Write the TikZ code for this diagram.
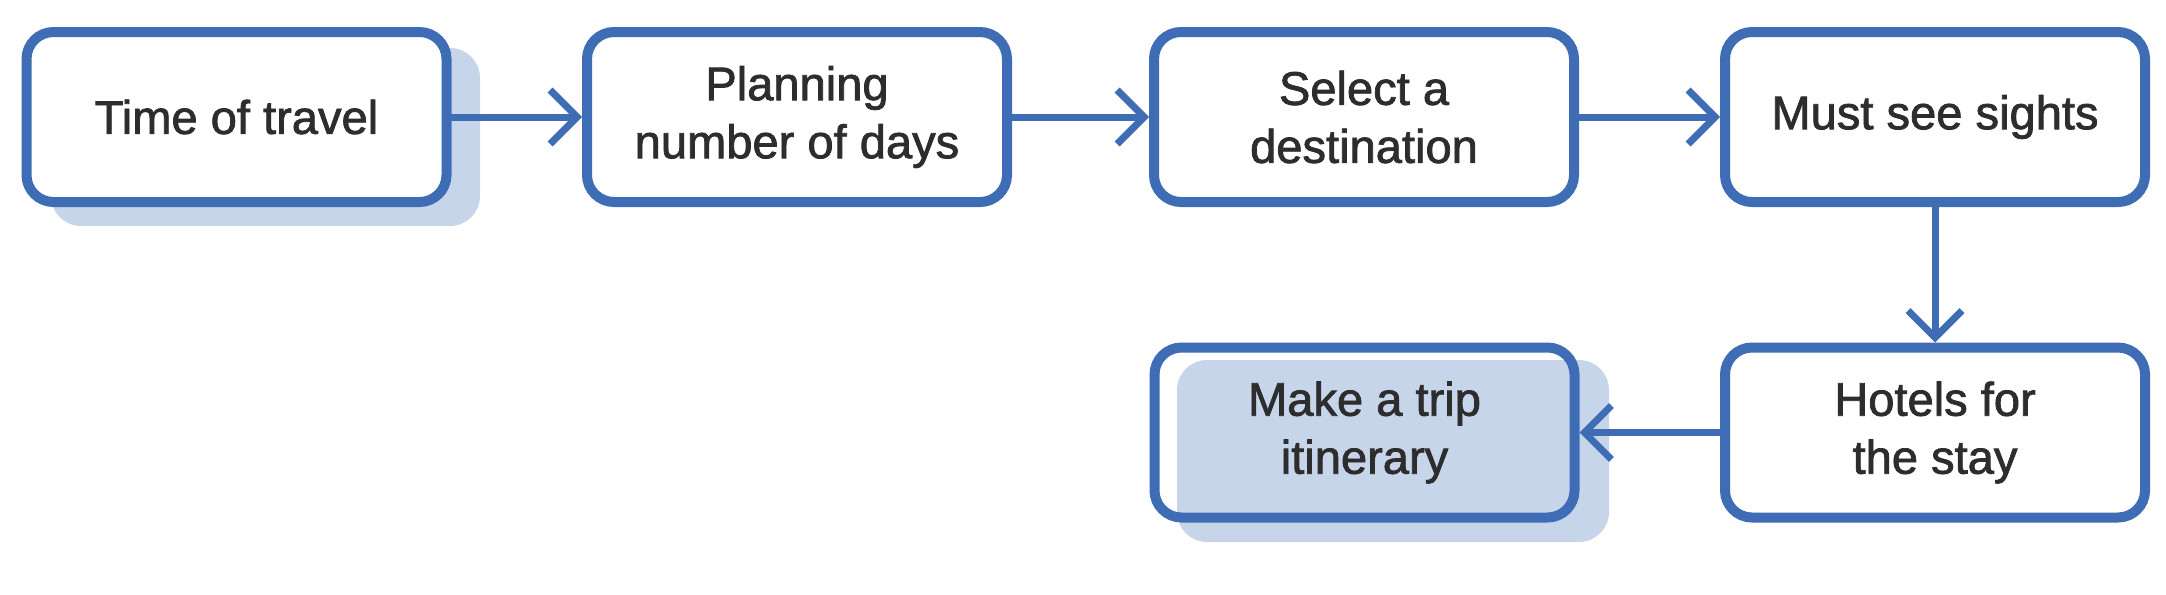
\documentclass[tikz,border=0pt]{standalone}
\usepackage{fontspec}
\setmainfont{Liberation Sans}[FakeBold=1.6]
\usetikzlibrary{arrows.meta}
\definecolor{stepblue}{HTML}{3F6DB5}
\definecolor{shadeblue}{HTML}{C6D5EA}
\definecolor{stepink}{HTML}{2D2D2D}
\tikzset{
  stepbox/.style={draw=stepblue, line width=0.1cm, rounded corners=0.27cm, fill=white,
    minimum width=4.2cm, minimum height=1.7cm, inner sep=0pt, align=center,
    text=stepink, font=\fontsize{13.4}{16.5}\selectfont},
  steparrow/.style={draw=stepblue, line width=0.07cm, line cap=round,
    -{Straight Barb[length=2.7mm, width=5.4mm]}},
  stepshade/.style={fill=shadeblue, rounded corners=0.3cm}
}
\begin{document}
\begin{tikzpicture}
    \useasboundingbox (0,0) rectangle (21.66,-5.94);
    % shadows
    \fill[stepshade] (0.51,-0.48) rectangle (4.80,-2.26);
    \fill[stepshade] (11.77,-3.60) rectangle (16.09,-5.42);
    % steps
    \node[stepbox] (travel) at (2.365,-1.17) {Time of travel};
    \node[stepbox] (days) at (7.97,-1.17) {Planning\\number of days};
    \node[stepbox] (destination) at (13.64,-1.17) {Select a\\destination};
    \node[stepbox] (sights) at (19.35,-1.17) {Must see sights};
    \node[stepbox] (hotels) at (19.35,-4.325) {Hotels for\\the stay};
    \node[stepbox, fill=none] (itinerary) at (13.645,-4.325) {Make a trip\\itinerary};
    % arrows
    \draw[steparrow] (travel) -- (days);
    \draw[steparrow] (days) -- (destination);
    \draw[steparrow] (destination) -- (sights);
    \draw[steparrow] (sights) -- (hotels);
    \draw[steparrow] (hotels) -- (itinerary);
\end{tikzpicture}
\end{document}
